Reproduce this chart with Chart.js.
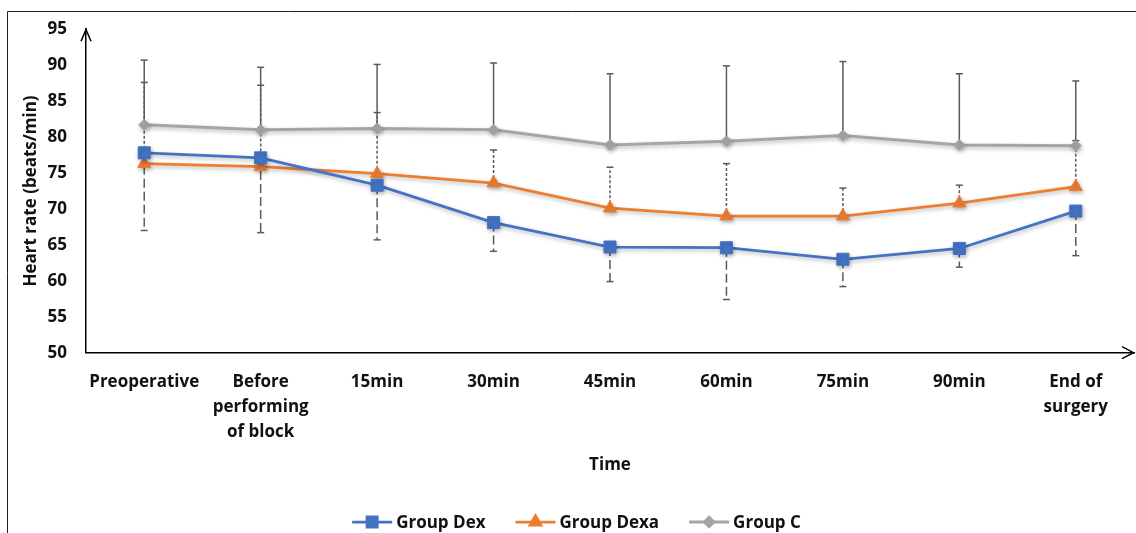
<!DOCTYPE html>
<html>
<head>
<meta charset="utf-8">
<script src="https://cdn.jsdelivr.net/npm/chart.js@4.4.1/dist/chart.umd.min.js"></script>
<style>
  html, body { margin: 0; padding: 0; background: #fff; }
  #wrap { position: relative; width: 1136px; height: 533px; }
  canvas { display: block; }
</style>
</head>
<body>
<div id="wrap"><canvas id="c" width="1136" height="533"></canvas></div>
<script>
const categories = ["Preoperative", ["Before", "performing", "of block"], "15min", "30min", "45min", "60min", "75min", "90min", ["End of", "surgery"]];
const seriesNames = ["Group Dex", "Group Dexa", "Group C"];
const dexMean  = [77.8, 77.1, 73.3, 68.1, 64.7, 64.6, 63.0, 64.5, 69.7];
const dexSD    = [10.8, 10.4, 7.6, 4.0, 4.8, 7.2, 3.8, 2.6, 6.2];   // drawn downward
const dexaMean = [76.3, 75.9, 74.9, 73.6, 70.1, 69.0, 69.0, 70.8, 73.1];
const dexaSD   = [11.3, 11.3, 8.5, 4.6, 5.7, 7.3, 3.9, 2.5, 6.4];   // drawn upward
const cMean    = [81.7, 81.0, 81.2, 81.0, 78.9, 79.4, 80.2, 78.9, 78.8];
const cSD      = [9.0, 8.7, 8.9, 9.3, 9.9, 10.5, 10.3, 9.9, 9.0];    // drawn upward
const yTicks   = [50, 55, 60, 65, 70, 75, 80, 85, 90, 95];

const FONT = "'Open Sans', 'DejaVu Sans', sans-serif";
const TEXT = '#111111';
const ERR = '#5a5a5a';

const errSpec = [
  { sd: dexSD,  dir: -1, dash: [9, 4] },
  { sd: dexaSD, dir: 1,  dash: [3, 2] },
  { sd: cSD,    dir: 1,  dash: [] }
];

const errorBars = {
  id: 'errorBars',
  beforeDatasetsDraw(chart) {
    const ctx = chart.ctx;
    const y = chart.scales.y;
    ctx.save();
    ctx.strokeStyle = ERR;
    ctx.lineWidth = 1.5;
    errSpec.forEach((spec, di) => {
      const meta = chart.getDatasetMeta(di);
      const data = chart.data.datasets[di].data;
      meta.data.forEach((pt, i) => {
        const x = pt.x;
        const y0 = y.getPixelForValue(data[i]);
        const y1 = y.getPixelForValue(data[i] + spec.dir * spec.sd[i]);
        ctx.setLineDash(spec.dash);
        ctx.beginPath();
        ctx.moveTo(x, y0);
        ctx.lineTo(x, y1);
        ctx.stroke();
        ctx.setLineDash([]);
        ctx.beginPath();
        ctx.moveTo(x - 3.5, y1);
        ctx.lineTo(x + 3.5, y1);
        ctx.stroke();
      });
    });
    ctx.restore();
  }
};

const shadow = {
  id: 'shadow',
  beforeDatasetDraw(chart) {
    const ctx = chart.ctx;
    ctx.save();
    ctx.shadowColor = 'rgba(0,0,0,0.28)';
    ctx.shadowBlur = 4;
    ctx.shadowOffsetX = 1;
    ctx.shadowOffsetY = 2;
  },
  afterDatasetDraw(chart) {
    chart.ctx.restore();
  }
};

// widen the plot area to the right edge (the axis arrow reaches ~2px from the canvas edge)
const stretch = {
  id: 'stretch',
  afterLayout(chart) {
    const target = chart.width - 2;
    const xs = chart.scales.x;
    if (xs.right < target) {
      xs.right = target;
      xs.width = xs.right - xs.left;
      xs.configure();
      chart.chartArea.right = target;
      chart.chartArea.width = target - chart.chartArea.left;
    }
  }
};

const decor = {
  id: 'decor',
  afterDraw(chart) {
    const ctx = chart.ctx;
    const a = chart.chartArea;
    ctx.save();
    ctx.strokeStyle = '#222';
    ctx.lineWidth = 1;
    ctx.beginPath();
    ctx.moveTo(7.5, 533);
    ctx.lineTo(7.5, 11.5);
    ctx.lineTo(1136, 11.5);
    ctx.stroke();
    ctx.strokeStyle = '#000';
    ctx.lineWidth = 1.5;
    ctx.beginPath();
    ctx.moveTo(a.left - 5, a.top + 12);
    ctx.lineTo(a.left, a.top + 0.5);
    ctx.lineTo(a.left + 5, a.top + 12);
    ctx.stroke();
    ctx.beginPath();
    ctx.moveTo(a.right - 12, a.bottom - 6);
    ctx.lineTo(a.right - 0.5, a.bottom);
    ctx.lineTo(a.right - 12, a.bottom + 6);
    ctx.stroke();
    ctx.font = 'bold 17px ' + FONT;
    ctx.textBaseline = 'middle';
    ctx.fillStyle = TEXT;
    const ly = 522;
    const lineW = 40, gapText = 4, gapItem = 30;
    const items = chart.data.datasets.map(ds => ({ ds, w: lineW + gapText + ctx.measureText(ds.label).width }));
    const total = items.reduce((s, it) => s + it.w, 0) + gapItem * (items.length - 1);
    let x = 576.5 - total / 2;
    items.forEach(it => {
      const ds = it.ds;
      ctx.strokeStyle = ds.borderColor;
      ctx.lineWidth = ds.borderWidth;
      ctx.beginPath();
      ctx.moveTo(x, ly);
      ctx.lineTo(x + lineW, ly);
      ctx.stroke();
      ctx.fillStyle = ds.pointBackgroundColor;
      ctx.strokeStyle = ds.pointBackgroundColor;
      Chart.helpers.drawPoint(ctx, { pointStyle: ds.pointStyle, radius: ds.pointRadius * 0.85, rotation: 0, borderWidth: 1 }, x + lineW / 2, ly);
      ctx.fillStyle = TEXT;
      ctx.fillText(ds.label, x + lineW + gapText, ly + 1);
      x += it.w + gapItem;
    });
    ctx.restore();
  }
};

new Chart(document.getElementById('c'), {
  type: 'line',
  data: {
    labels: categories,
    datasets: [
      { label: seriesNames[0], data: dexMean, borderColor: '#4472C4', backgroundColor: '#4472C4',
        pointBackgroundColor: '#4472C4', pointBorderColor: '#4472C4', borderWidth: 2.75,
        pointStyle: 'rect', pointRadius: 8.5, pointBorderWidth: 1, tension: 0 },
      { label: seriesNames[1], data: dexaMean, borderColor: '#ED7D31', backgroundColor: '#ED7D31',
        pointBackgroundColor: '#ED7D31', pointBorderColor: '#ED7D31', borderWidth: 2.75,
        pointStyle: 'triangle', pointRadius: 7.5, pointBorderWidth: 1, tension: 0 },
      { label: seriesNames[2], data: cMean, borderColor: '#A5A5A5', backgroundColor: '#A5A5A5',
        pointBackgroundColor: '#A5A5A5', pointBorderColor: '#A5A5A5', borderWidth: 3,
        pointStyle: 'rectRot', pointRadius: 5.5, pointBorderWidth: 1, tension: 0 }
    ]
  },
  options: {
    responsive: false,
    animation: false,
    events: [],
    layout: { padding: { left: 8, right: 2, top: 26.7, bottom: 0 } },
    plugins: {
      legend: { display: false },
      tooltip: { enabled: false },
      title: { display: false }
    },
    scales: {
      x: {
        type: 'category',
        offset: true,
        grid: { display: false, drawTicks: false },
        border: { display: true, color: '#000', width: 1.5 },
        ticks: { color: TEXT, font: { family: FONT, size: 17, weight: 'bold', lineHeight: 1.49 }, padding: 16.3, maxRotation: 0, autoSkip: false },
        title: { display: true, text: 'Time', color: TEXT, font: { family: FONT, size: 17, weight: 'bold' }, padding: { top: 0, bottom: 57.8 } },
        afterFit(scale) { scale.height = 533 - 352.7; }
      },
      y: {
        min: 50, max: 95,
        afterBuildTicks(scale) { scale.ticks = yTicks.map(v => ({ value: v })); },
        grid: { display: false, drawTicks: false },
        border: { display: true, color: '#000', width: 1.5 },
        ticks: { color: TEXT, font: { family: FONT, size: 17, weight: 'bold' }, padding: 19 },
        title: { display: true, text: 'Heart rate (beats/min)', color: TEXT, font: { family: FONT, size: 17, weight: 'bold' }, padding: { top: 12.5, bottom: 0 } },
        afterFit(scale) { scale.width = 78; }
      }
    }
  },
  plugins: [stretch, errorBars, shadow, decor]
});
</script>
</body>
</html>
